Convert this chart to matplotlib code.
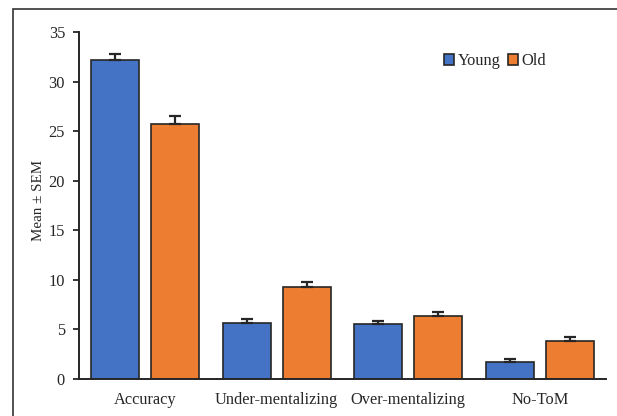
import numpy as np
import matplotlib
matplotlib.use('Agg')
import matplotlib.pyplot as plt
from matplotlib.patches import Rectangle

categories = ['Accuracy', 'Under-mentalizing', 'Over-mentalizing', 'No-ToM']
young = [32.15, 5.6, 5.5, 1.7]
young_sem = [0.6, 0.4, 0.33, 0.25]
old = [25.7, 9.2, 6.3, 3.78]
old_sem = [0.8, 0.6, 0.45, 0.4]
groups = ['Young', 'Old']

plt.rcParams['font.family'] = ['Liberation Serif', 'DejaVu Serif']
txt = '#262626'

fig = plt.figure(figsize=(6.17, 4.16), dpi=100)
ax = fig.add_axes([0.128, 0.090, 0.854, 0.833])

x = np.arange(len(categories))
w = 0.364
off = 0.2275
err = dict(ecolor='#262626', elinewidth=1.6, capsize=4, capthick=1.6)
ax.bar(x - off, young, w, color='#4472C4', edgecolor='#262626', linewidth=1.2,
       yerr=[np.zeros(4), young_sem], error_kw=err, label=groups[0], zorder=2)
ax.bar(x + off, old, w, color='#ED7D31', edgecolor='#262626', linewidth=1.2,
       yerr=[np.zeros(4), old_sem], error_kw=err, label=groups[1], zorder=2)

ax.set_xlim(-0.5, 3.5)
ax.set_ylim(0, 35)
ax.set_yticks(range(0, 36, 5))
ax.set_xticks(x)
ax.set_xticklabels(categories)
ax.tick_params(axis='x', length=0, pad=10, labelsize=11.8, colors=txt)
ax.tick_params(axis='y', length=4, width=1.3, pad=6, labelsize=11.8, colors=txt)
for s in ['top', 'right']:
    ax.spines[s].set_visible(False)
for s in ['left', 'bottom']:
    ax.spines[s].set_linewidth(1.4)
    ax.spines[s].set_color('#262626')
ax.set_ylabel('Mean ± SEM', fontsize=10.8, color=txt)
ax.yaxis.set_label_coords(-0.065, 0.515)

leg = ax.legend(loc='center', bbox_to_anchor=(0.79, 0.916), ncol=2, frameon=False,
                handlelength=0.6, handleheight=0.6, handletextpad=0.2,
                columnspacing=0.5, fontsize=11.8)
for t in leg.get_texts():
    t.set_color(txt)

# outer border of the original figure
fig.patches.append(Rectangle((13 / 617, -0.1), 1.2, (416 - 9) / 416 + 0.1,
                             transform=fig.transFigure, fill=False,
                             edgecolor='#333333', linewidth=1.2))

fig.savefig('out.png', dpi=100)
